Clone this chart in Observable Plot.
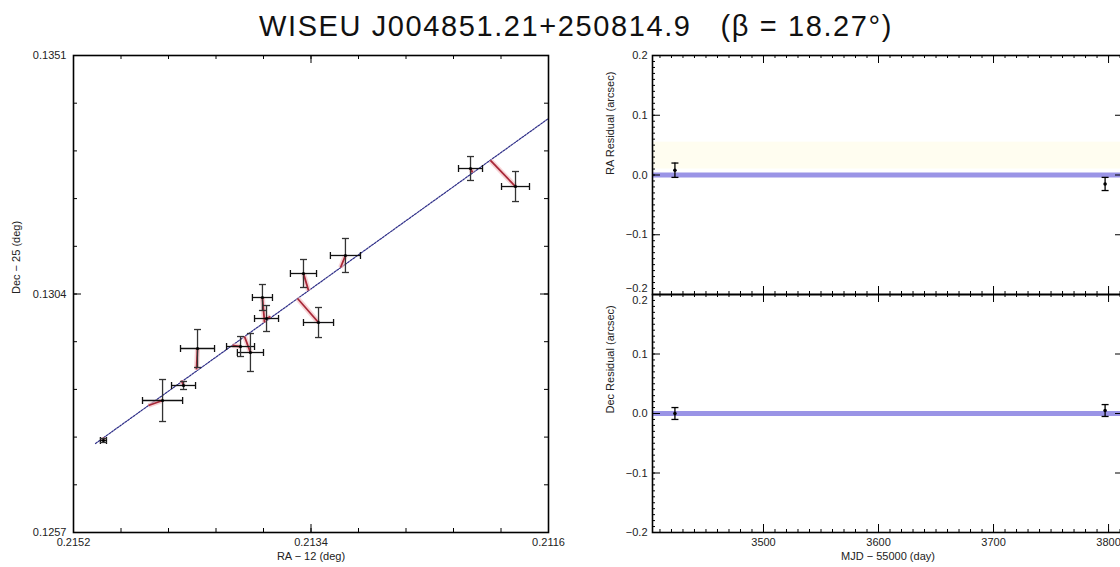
<!DOCTYPE html>
<html><head><meta charset="utf-8">
<script src="https://cdn.jsdelivr.net/npm/d3@7"></script>
<script src="https://cdn.jsdelivr.net/npm/@observablehq/plot@0.6"></script>
<style>
html,body{margin:0;padding:0;background:#fff;overflow:hidden}
#wrap{position:relative;width:1120px;height:567px;overflow:hidden;font-family:"Liberation Sans",Arial,Helvetica,sans-serif;background:#fff}
#title{position:absolute;left:16px;top:10px;width:1120px;text-align:center;font-size:29px;letter-spacing:1.6px;color:#111;z-index:5;white-space:pre}
.p{position:absolute}
</style></head><body><div id="wrap">
<div class="p" id="pl" style="left:0;top:0;width:560px"></div>
<div class="p" id="pt" style="left:560px;top:0;width:570px"></div>
<div class="p" id="pb" style="left:560px;top:288px;width:570px"></div>
<div id="title">WISEU J004851.21+250814.9   (β = 18.27°)</div>
</div>
<script>
// ---------- Left panel: astrometry (RA-12, Dec-25 in deg) ----------
const obsRA  = [0.214973, 0.214525, 0.214366, 0.214260, 0.213934, 0.213859, 0.213768, 0.213737, 0.213457, 0.213343, 0.213139, 0.212191, 0.211850];
const obsDec = [0.127513, 0.128301, 0.128597, 0.129326, 0.129365, 0.129247, 0.130331, 0.129917, 0.130804, 0.129838, 0.131159, 0.132873, 0.132518];
const errRA  = [0.000023, 0.000152, 0.000091, 0.000129, 0.000106, 0.000099, 0.000076, 0.000091, 0.000099, 0.000114, 0.000114, 0.000091, 0.000106];
const errDec = [0.000039, 0.000414, 0.000079, 0.000374, 0.000197, 0.000374, 0.000256, 0.000256, 0.000276, 0.000296, 0.000335, 0.000236, 0.000296];
const fitRA  = [0.214973, 0.214632, 0.214381, 0.214268, 0.213995, 0.213904, 0.213752, 0.213707, 0.213419, 0.213502, 0.213176, 0.212176, 0.212040];
const fitDec = [0.127572, 0.128203, 0.128695, 0.128912, 0.129385, 0.129563, 0.129838, 0.129957, 0.130469, 0.130311, 0.130922, 0.132794, 0.133031];
const lineRA  = [0.215033, 0.211600];
const lineDec = [0.127454, 0.133859];

const raTicks  = [0.2152, 0.2134, 0.2116];
const decTicks = [0.1257, 0.1304, 0.1351];

// ---------- Right panels: residuals ----------
const mjd         = [3423, 3797];
const raResid     = [0.008, -0.015];
const raResidErr  = [0.012, 0.011];
const decResid    = [0.000, 0.005];
const decResidErr = [0.010, 0.010];
const bandLo = 0.010, bandHi = 0.055;

const mjdTicks   = [3500, 3600, 3700, 3800];
const residTicks = [-0.2, -0.1, 0.0, 0.1, 0.2];

const raDomain = [0.2152, 0.2116];
const decDomain = [0.1257, 0.1351];
const mjdDomain = [3403.5, 3813];
const residDomain = [-0.2, 0.2];

const raMinor = d3.range(0, 11).map(i => raDomain[0] - i * 0.00036);
const decMinor = d3.range(0, 11).map(i => decDomain[0] + i * 0.00094);
const mjdMinor = d3.range(3410, 3813, 10);
const residMinor = d3.range(-20, 21).map(i => i / 100);

const fontFamily = '"Liberation Sans", Arial, Helvetica, sans-serif';
const baseStyle = {fontFamily, fontSize: "11px", background: "transparent", color: "#222", overflow: "visible"};

const hCap = {draw(ctx, size) { const r = Math.sqrt(size / Math.PI); ctx.moveTo(-r, 0); ctx.lineTo(r, 0); }};
const vCap = {draw(ctx, size) { const r = Math.sqrt(size / Math.PI); ctx.moveTo(0, -r); ctx.lineTo(0, r); }};

function frameTicks(xs, ys, W, H, len) {
  return [
    Plot.tickX(xs, {x: d => d, insetTop: H - len, stroke: "#000", strokeWidth: 1}),
    Plot.tickX(xs, {x: d => d, insetBottom: H - len, stroke: "#000", strokeWidth: 1}),
    Plot.tickY(ys, {y: d => d, insetRight: W - len, stroke: "#000", strokeWidth: 1}),
    Plot.tickY(ys, {y: d => d, insetLeft: W - len, stroke: "#000", strokeWidth: 1})
  ];
}

const idx = d3.range(obsRA.length);
const LW = 475, LH = 477;

const left = Plot.plot({
  width: 560, height: 567, marginLeft: 73, marginRight: 12, marginTop: 55, marginBottom: 35,
  x: {domain: raDomain}, y: {domain: decDomain},
  style: baseStyle,
  marks: [
    ...frameTicks(raMinor, decMinor, LW, LH, 4),
    ...frameTicks(raTicks, decTicks, LW, LH, 8),
    Plot.axisX({ticks: raTicks, anchor: "bottom", tickSize: 0, tickPadding: 6, tickFormat: d3.format(".4f"), label: null}),
    Plot.axisY({ticks: decTicks, anchor: "left", tickSize: 0, tickPadding: 7, tickFormat: d3.format(".4f"), label: null}),
    Plot.text(["RA − 12 (deg)"], {frameAnchor: "bottom", dy: 27, text: d => d, fill: "#222"}),
    Plot.text(["Dec − 25 (deg)"], {frameAnchor: "left", dx: -57, rotate: -90, text: d => d, fill: "#222"}),
    // proper-motion fit track
    Plot.line(lineRA.map((x, i) => ({x, y: lineDec[i]})), {x: "x", y: "y", stroke: "#2e2e88", strokeWidth: 1.2, strokeDasharray: "2,1.3"}),
    // residual vectors observed -> fitted
    Plot.link(idx, {x1: i => obsRA[i], y1: i => obsDec[i], x2: i => fitRA[i], y2: i => fitDec[i], stroke: "#f3c3c6", strokeWidth: 5, strokeOpacity: 0.7}),
    Plot.link(idx, {x1: i => obsRA[i], y1: i => obsDec[i], x2: i => fitRA[i], y2: i => fitDec[i], stroke: "#a82838", strokeWidth: 1.8}),
    // error bars
    Plot.link(idx, {x1: i => obsRA[i] - errRA[i], x2: i => obsRA[i] + errRA[i], y1: i => obsDec[i], y2: i => obsDec[i], stroke: "#111", strokeWidth: 1.3}),
    Plot.link(idx, {x1: i => obsRA[i], x2: i => obsRA[i], y1: i => obsDec[i] - errDec[i], y2: i => obsDec[i] + errDec[i], stroke: "#333", strokeWidth: 1.3}),
    Plot.dot(idx, {x: i => obsRA[i] - errRA[i], y: i => obsDec[i], symbol: vCap, r: 3.5, stroke: "#111", fill: "none", strokeWidth: 1.3}),
    Plot.dot(idx, {x: i => obsRA[i] + errRA[i], y: i => obsDec[i], symbol: vCap, r: 3.5, stroke: "#111", fill: "none", strokeWidth: 1.3}),
    Plot.dot(idx, {x: i => obsRA[i], y: i => obsDec[i] - errDec[i], symbol: hCap, r: 3.5, stroke: "#333", fill: "none", strokeWidth: 1.3}),
    Plot.dot(idx, {x: i => obsRA[i], y: i => obsDec[i] + errDec[i], symbol: hCap, r: 3.5, stroke: "#333", fill: "none", strokeWidth: 1.3}),
    Plot.dot(idx, {x: i => obsRA[i], y: i => obsDec[i], r: 1.6, fill: "#000"}),
    Plot.frame({stroke: "#000", strokeWidth: 1.6})
  ]
});
document.getElementById("pl").append(left);

const idx2 = d3.range(mjd.length);
const RW = 471;

function residPanel(resid, err, label, opts) {
  const H = opts.height - opts.marginTop - opts.marginBottom;
  const marks = [];
  if (opts.band) marks.push(Plot.rect([{lo: bandLo, hi: bandHi}], {x1: () => mjdDomain[0], x2: () => mjdDomain[1], y1: d => d.lo, y2: d => d.hi, fill: "#fffdf0"}));
  // shared edge label (±0.2 at the panel junction) nudged away from its neighbour
  const inner = residTicks.filter(t => t !== opts.edgeTick);
  marks.push(
    Plot.ruleY([0], {y: d => d, stroke: "#9a94e6", strokeWidth: 5}),
    ...frameTicks(mjdMinor, residMinor, RW, H, 3),
    ...frameTicks(mjdTicks, residTicks, RW, H, 8),
    Plot.axisY({ticks: inner, anchor: "left", tickSize: 0, tickPadding: 5, tickFormat: d3.format(".1f"), label: null}),
    Plot.axisY({ticks: [opts.edgeTick], anchor: "left", tickSize: 0, tickPadding: 5, dy: opts.edgeDy, tickFormat: d3.format(".1f"), label: null}),
    Plot.text([label], {frameAnchor: "left", dx: -42, rotate: -90, text: d => d, fill: "#222"}),
    Plot.ruleX(idx2, {x: i => mjd[i], y1: i => resid[i] - err[i], y2: i => resid[i] + err[i], stroke: "#000", strokeWidth: 1.3}),
    Plot.dot(idx2, {x: i => mjd[i], y: i => resid[i] - err[i], symbol: hCap, r: 3.5, stroke: "#000", fill: "none", strokeWidth: 1.3}),
    Plot.dot(idx2, {x: i => mjd[i], y: i => resid[i] + err[i], symbol: hCap, r: 3.5, stroke: "#000", fill: "none", strokeWidth: 1.3}),
    Plot.dot(idx2, {x: i => mjd[i], y: i => resid[i], r: 1.8, fill: "#000"}),
    Plot.frame({stroke: "#000", strokeWidth: 1.6})
  );
  if (opts.xAxis) {
    marks.push(Plot.axisX({ticks: mjdTicks, anchor: "bottom", tickSize: 0, tickPadding: 6, tickFormat: d => String(d), label: null}));
    marks.push(Plot.text(["MJD − 55000 (day)"], {frameAnchor: "bottom", dy: 27, text: d => d, fill: "#222"}));
  }
  return Plot.plot({
    width: 570, height: opts.height, marginLeft: 92, marginRight: 7, marginTop: opts.marginTop, marginBottom: opts.marginBottom,
    x: {domain: mjdDomain, axis: opts.xAxis ? undefined : null}, y: {domain: residDomain},
    style: baseStyle,
    marks
  });
}

document.getElementById("pt").append(residPanel(raResid, raResidErr, "RA Residual (arcsec)", {height: 300, marginTop: 55, marginBottom: 6, xAxis: false, band: true, edgeTick: -0.2, edgeDy: -6}));
document.getElementById("pb").append(residPanel(decResid, decResidErr, "Dec Residual (arcsec)", {height: 279, marginTop: 6, marginBottom: 35, xAxis: true, band: false, edgeTick: 0.2, edgeDy: 6}));
</script>
</body></html>
